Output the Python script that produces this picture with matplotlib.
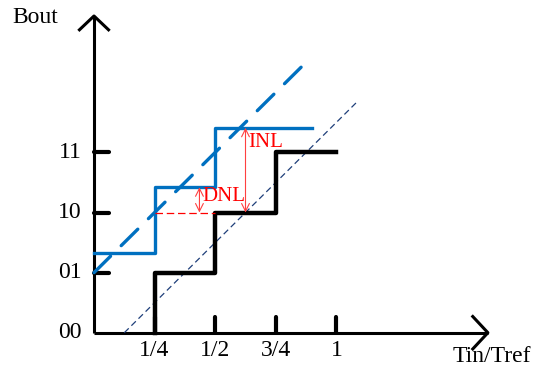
import matplotlib.pyplot as plt

plt.rcParams['font.family'] = ['Liberation Serif', 'DejaVu Serif']

# ideal (black) and real (blue) transfer staircase, x in units of Tref/4
ideal_x = [1, 1, 2, 2, 3, 3, 4.0]
ideal_y = [0, 1, 1, 2, 2, 3, 3]
real_x = [0, 1, 1, 2, 2, 3.6]
real_y = [1.32, 1.32, 2.42, 2.42, 3.41, 3.41]

# straight reference lines
real_fit_x = [0, 3.55]
real_fit_y = [1, 4.55]
ideal_fit_x = [0.5, 4.35]
ideal_fit_y = [0, 3.85]

xtick_pos = [1, 2, 3, 4]
xtick_labels = ['1/4', '1/2', '3/4', '1']
ytick_pos = [0, 1, 2, 3]
ytick_labels = ['00', '01', '10', '11']

fig = plt.figure(figsize=(5.33, 3.76), dpi=100)
ax = fig.add_axes([0, 0, 1, 1])
ax.set_xlim(-1.551, 7.244)
ax.set_ylim(-0.720, 5.536)
ax.axis('off')

# axes with arrows
ax.plot([0, 6.5], [0, 0], 'k', lw=2.2, solid_capstyle='butt')
ax.plot([0, 0], [0, 5.27], 'k', lw=2.2, solid_capstyle='butt')
ax.plot([6.25, 6.5, 6.25], [0.27, 0, -0.27], 'k', lw=2.2)
ax.plot([-0.24, 0, 0.24], [5.04, 5.27, 5.04], 'k', lw=2.2)

# ticks
for x in xtick_pos:
    ax.plot([x, x], [0, 0.26], 'k', lw=3, solid_capstyle='round')
for y in ytick_pos[1:]:
    ax.plot([0, 0.25], [y, y], 'k', lw=3, solid_capstyle='round')
for x, s in zip(xtick_pos, xtick_labels):
    ax.text(x, -0.29, s, ha='center', va='center', fontsize=17)
for y, s in zip(ytick_pos, ytick_labels):
    ax.text(-0.2, y, s, ha='right', va='center', fontsize=17)

ax.text(-1.353, 5.24, 'Bout', ha='left', va='center', fontsize=17)
ax.text(5.91, -0.40, 'Tin/Tref', ha='left', va='center', fontsize=17)

# reference lines
ax.plot(ideal_fit_x, ideal_fit_y, color='#1F3F7A', lw=0.9, ls=(0, (5, 3)))
ax.plot(real_fit_x, real_fit_y, color='#0070C0', lw=2.4, ls=(0, (7, 4.5)),
        dash_capstyle='round')

# staircases
ax.plot(real_x, real_y, color='#0070C0', lw=2.4)
ax.plot(ideal_x, ideal_y, 'k', lw=3.2)

# DNL / INL
ax.plot([1, 2], [2, 2], color='red', lw=0.9, ls=(0, (6, 3)))
ax.annotate('', xy=(1.74, 2.0), xytext=(1.74, 2.42),
            arrowprops=dict(arrowstyle='<->', color='#FF4040', lw=0.8,
                            mutation_scale=14, shrinkA=0, shrinkB=0))
ax.annotate('', xy=(2.5, 2.0), xytext=(2.5, 3.41),
            arrowprops=dict(arrowstyle='<->', color='#FF4040', lw=0.8,
                            mutation_scale=14, shrinkA=0, shrinkB=0))
ax.text(1.79, 2.26, 'DNL', color='red', ha='left', va='center', fontsize=15)
ax.text(2.55, 3.17, 'INL', color='red', ha='left', va='center', fontsize=15)

fig.savefig('out.png', dpi=100)
